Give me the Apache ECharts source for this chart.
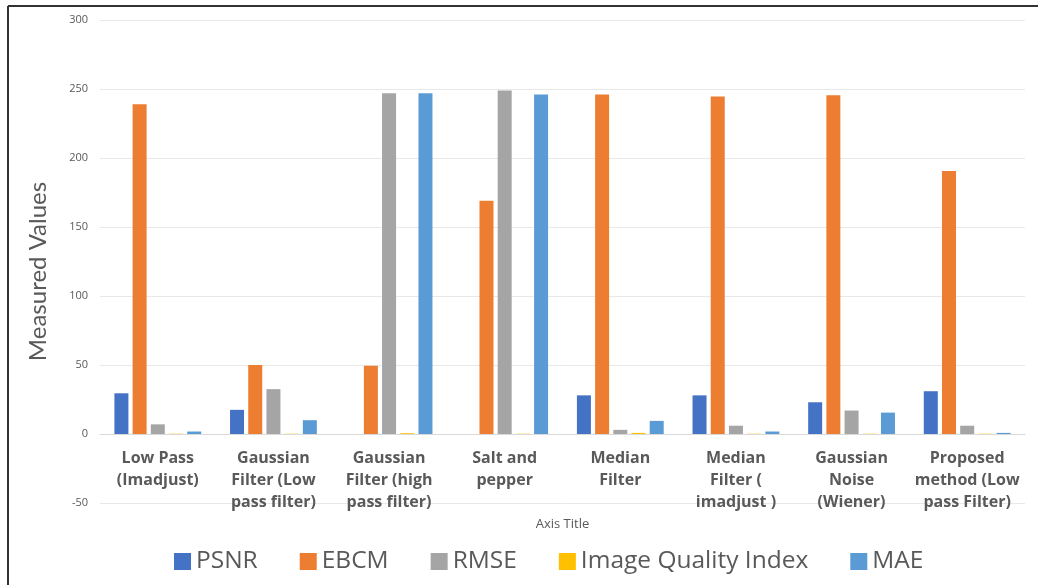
<!DOCTYPE html>
<html>
<head>
<meta charset="utf-8">
<script src="https://cdn.jsdelivr.net/npm/echarts@6/dist/echarts.min.js"></script>
<style>
  html, body { margin: 0; padding: 0; background: #ffffff; }
  #chart { width: 1038px; height: 585px; }
</style>
</head>
<body>
<div id="chart"></div>
<script>
// Filter methods compared along the x axis
const categories = [
  'Low Pass\n(Imadjust)',
  'Gaussian\nFilter (Low\npass filter)',
  'Gaussian\nFilter (high\npass filter)',
  'Salt and\npepper',
  'Median\nFilter',
  'Median\nFilter (\nimadjust )',
  'Gaussian\nNoise\n(Wiener)',
  'Proposed\nmethod (Low\npass Filter)'
];

// Quality metrics per method
const psnr = [29.5, 17.5, 0, 0, 28, 28, 23, 31];
const ebcm = [239, 50, 49.5, 169, 246, 244.5, 245.5, 190.5];
const rmse = [7, 32.5, 247, 249, 3, 6, 17, 6];
const iqi = [0.2, 0.2, 0.6, 0.2, 0.8, 0.2, 0.2, 0.2];
const mae = [1.8, 10, 247, 246, 9.5, 1.8, 15.5, 0.8];

// Value axis ticks
const yMin = -50;
const yMax = 300;
const yStep = 50;

const seriesNames = ['PSNR', 'EBCM', 'RMSE', 'Image Quality Index', 'MAE'];
const seriesData = [psnr, ebcm, rmse, iqi, mae];
const colors = ['#4472C4', '#ED7D31', '#A5A5A5', '#FFC000', '#5B9BD5'];

const chart = echarts.init(document.getElementById('chart'), null, { renderer: 'canvas' });

const textColor = '#595959';
const fontFamily = '"Open Sans", Lato, sans-serif';

// Plot area geometry; the category axis sits on the zero line
const gridTop = 20;
const gridBottom = 82;
const plotHeight = 585 - gridTop - gridBottom;
const zeroOffset = -plotHeight * (0 - yMin) / (yMax - yMin);

chart.setOption({
  animation: false,
  color: colors,
  textStyle: { fontFamily: fontFamily },
  grid: { left: 100, right: 13, top: gridTop, bottom: gridBottom, containLabel: false },
  legend: {
    data: seriesNames,
    bottom: 11,
    left: 174,
    padding: 0,
    itemWidth: 17,
    itemHeight: 17,
    itemGap: 42,
    icon: 'rect',
    textStyle: { fontSize: 24.5, color: textColor, fontFamily: fontFamily }
  },
  xAxis: {
    type: 'category',
    data: categories,
    offset: zeroOffset,
    name: 'Axis Title',
    nameLocation: 'middle',
    nameGap: 80,
    nameTextStyle: { fontSize: 13, color: textColor },
    axisLine: { onZero: false, lineStyle: { color: '#d9d9d9' } },
    axisTick: { show: false },
    axisLabel: {
      interval: 0,
      margin: 13,
      fontSize: 16,
      fontWeight: 'bold',
      lineHeight: 22,
      color: textColor
    }
  },
  yAxis: {
    type: 'value',
    min: yMin,
    max: yMax,
    interval: yStep,
    name: 'Measured Values',
    nameLocation: 'middle',
    nameGap: 50,
    nameTextStyle: {
      fontSize: 24,
      color: textColor,
      fontFamily: 'Lato, sans-serif',
      padding: [0, 20, 0, 0]
    },
    axisLine: { show: false },
    axisTick: { show: false },
    axisLabel: { fontSize: 11, color: textColor, margin: 12 },
    splitLine: { lineStyle: { color: '#e8e8e8' } }
  },
  series: seriesNames.map((name, i) => ({
    name: name,
    type: 'bar',
    data: seriesData[i],
    barWidth: 14,
    barGap: '30%'
  })),
  graphic: [
    { type: 'line', shape: { x1: 8, y1: 6, x2: 8, y2: 585 }, style: { stroke: '#333333', lineWidth: 2 } },
    { type: 'line', shape: { x1: 8, y1: 6, x2: 1038, y2: 6 }, style: { stroke: '#333333', lineWidth: 2 } }
  ]
});
</script>
</body>
</html>
